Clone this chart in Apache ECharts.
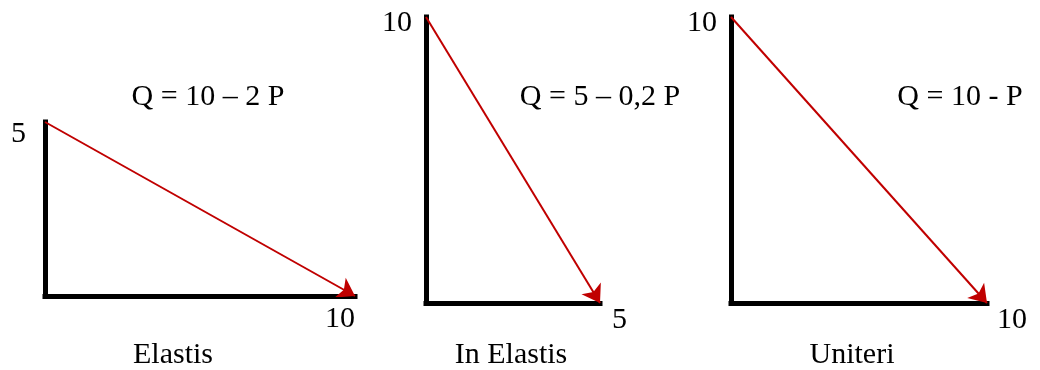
<!DOCTYPE html>
<html>
<head>
<meta charset="utf-8">
<script src="https://cdn.jsdelivr.net/npm/echarts@6/dist/echarts.min.js"></script>
<style>
  html, body { margin: 0; padding: 0; background: #fff; }
  #chart { width: 1040px; height: 370px; }
</style>
</head>
<body>
<div id="chart"></div>
<script>
// kurva permintaan: Q di sumbu datar, P di sumbu tegak
const panelNames = ['Elastis', 'In Elastis', 'Uniteri']
const equations = ['Q = 10 – 2 P', 'Q = 5 – 0,2 P', 'Q = 10 - P']
const qIntercepts = [10, 5, 10]   // ujung sumbu datar
const pIntercepts = [5, 10, 10]   // ujung sumbu tegak

const font = '"Liberation Serif", "Times New Roman", serif'

// letak tiap panel (px)
const grids = [
  {left: 45, top: 122, width: 310, height: 174},
  {left: 426, top: 17, width: 174, height: 286},
  {left: 731, top: 17, width: 256, height: 286}
]
const yLabelLineHeight = [24, 12, 12]
const yLabelMargin = [19, 14, 14]
const xLabelAlign = ['right', 'left', 'left']
const xLabelPad = [[0, 0, 0, 0], [0, 0, 0, 12], [0, 0, 0, 10]]
const xLabelMargin = [8, 2, 2]
const eqCenter = [[208, 82], [600, 82], [960, 82]]
const nameCenter = [[173, 340], [511, 340], [852, 340]]

const chart = echarts.init(document.getElementById('chart'))

const axisLine = {show: true, lineStyle: {color: '#000', width: 5, cap: 'square'}}

const option = {
  backgroundColor: '#fff',
  animation: false,
  title: [],
  grid: grids.map(g => Object.assign({outerBoundsMode: 'none', containLabel: false}, g)),
  xAxis: qIntercepts.map((q, i) => ({
    type: 'value',
    gridIndex: i,
    min: 0,
    max: q,
    interval: q,
    axisLine: axisLine,
    axisTick: {show: false},
    splitLine: {show: false},
    axisLabel: {
      showMinLabel: false,
      margin: xLabelMargin[i],
      fontSize: 30,
      fontFamily: font,
      color: '#000',
      align: xLabelAlign[i],
      padding: xLabelPad[i]
    }
  })),
  yAxis: pIntercepts.map((p, i) => ({
    type: 'value',
    gridIndex: i,
    min: 0,
    max: p,
    interval: p,
    axisLine: axisLine,
    axisTick: {show: false},
    splitLine: {show: false},
    axisLabel: {
      showMinLabel: false,
      margin: yLabelMargin[i],
      fontSize: 30,
      fontFamily: font,
      color: '#000',
      verticalAlign: 'top',
      lineHeight: yLabelLineHeight[i]
    }
  })),
  series: qIntercepts.map((q, i) => ({
    type: 'lines',
    coordinateSystem: 'cartesian2d',
    xAxisIndex: i,
    yAxisIndex: i,
    symbol: ['none', 'arrow'],
    symbolSize: 17,
    lineStyle: {color: '#C00000', width: 2, opacity: 1, curveness: 0},
    itemStyle: {color: '#C00000'},
    data: [{coords: [[0, pIntercepts[i]], [q, 0]]}]
  }))
}

equations.forEach((t, i) => {
  option.title.push({
    text: t,
    left: eqCenter[i][0],
    top: eqCenter[i][1],
    textAlign: 'center',
    padding: 0,
    textStyle: {fontSize: 30, fontWeight: 'normal', fontFamily: font, color: '#000'}
  })
})
panelNames.forEach((t, i) => {
  option.title.push({
    text: t,
    left: nameCenter[i][0],
    top: nameCenter[i][1],
    textAlign: 'center',
    padding: 0,
    textStyle: {fontSize: 30, fontWeight: 'normal', fontFamily: font, color: '#000'}
  })
})

chart.setOption(option)
</script>
</body>
</html>
